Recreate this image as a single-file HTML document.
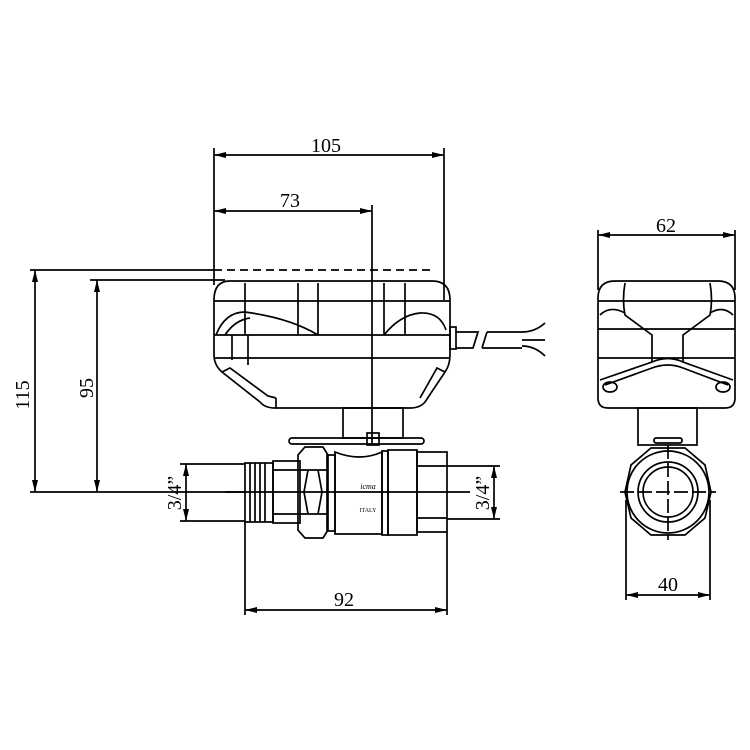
<!DOCTYPE html>
<html><head><style>body{margin:0;background:#fff}svg{display:block}</style></head><body>
<svg width="750" height="750" viewBox="0 0 750 750" xmlns="http://www.w3.org/2000/svg" font-family="Liberation Serif, serif" font-size="20">
<defs>
<marker id="a" viewBox="0 0 12 6" refX="12" refY="3" markerWidth="12" markerHeight="6" orient="auto-start-reverse" markerUnits="userSpaceOnUse"><path d="M0,0L12,3L0,6z" fill="#000"/></marker>
</defs>
<g stroke="#000" stroke-width="1.7" fill="none">
<line x1="214" y1="148" x2="214" y2="285"/>
<line x1="444" y1="148" x2="444" y2="300"/>
<line x1="372" y1="205" x2="372" y2="445"/>
<line x1="30" y1="270" x2="214" y2="270"/>
<line x1="214" y1="270" x2="430" y2="270" stroke-dasharray="8,5"/>
<line x1="90" y1="280" x2="225" y2="280"/>
<line x1="30" y1="492" x2="245" y2="492"/>
<line x1="214" y1="155" x2="444" y2="155" marker-start="url(#a)" marker-end="url(#a)"/>
<line x1="214" y1="211" x2="372" y2="211" marker-start="url(#a)" marker-end="url(#a)"/>
<line x1="35" y1="270" x2="35" y2="492" marker-start="url(#a)" marker-end="url(#a)"/>
<line x1="97" y1="280" x2="97" y2="492" marker-start="url(#a)" marker-end="url(#a)"/>
<path d="M230,281 H432 Q450,281 450,300 V355 Q450,365 445,372 L425,402 Q420,408 410,408 H275 Q265,408 260,402 L222,372 Q214,365 214,355 V300 Q214,281 230,281Z"/>
<line x1="214" y1="301" x2="450" y2="301"/>
<line x1="214" y1="335" x2="450" y2="335"/>
<line x1="214" y1="358" x2="450" y2="358"/>
<line x1="276" y1="408" x2="276" y2="398"/>
<path d="M245,283 V335 M298,283 V335 M318,283 V335 M384,283 V335 M405,283 V335"/>
<path d="M216,335 Q225,312 245,312 Q290,318 318,335"/>
<path d="M225,335 Q235,320 250,318"/>
<path d="M384,335 Q400,315 420,313 Q440,312 446,330"/>
<path d="M222,372 L230,368 L268,396 L276,398"/>
<path d="M445,372 L437,368 L420,398"/>
<path d="M232,335 V360 M248,335 V365"/>
<rect x="450" y="327" width="6" height="22"/>
<path d="M456,332 H478 L473,348 H456"/>
<path d="M487,332 H522 Q535,332 545,323 M522,340 H545 M522,346 Q535,346 545,356 M482,348 L487,332 M482,348 H522"/>
<rect x="343" y="408" width="60" height="30"/>
<rect x="289" y="438" width="135" height="6" rx="3"/>
<rect x="367" y="433" width="12" height="12"/>
<rect x="245" y="463" width="28" height="59"/>
<path d="M250,463V522M255,463V522M260,463V522M265,463V522"/>
<rect x="273" y="461" width="27" height="62"/>
<line x1="273" y1="470" x2="300" y2="470"/><line x1="273" y1="514" x2="300" y2="514"/>
<path d="M305,447 H323 L328,455 V530 L323,538 H305 L298,530 V455Z"/>
<path d="M300,470 H327 M300,514 H327 M308,470 L304,492 L308,514 M318,470 L322,492 L318,514"/>
<rect x="327" y="455" width="8" height="76"/>
<path d="M335,452 Q360,462 382,452 V534 H335Z"/>
<rect x="382" y="451" width="6" height="84"/>
<rect x="388" y="450" width="29" height="85"/>
<rect x="417" y="452" width="30" height="80"/>
<line x1="417" y1="466" x2="447" y2="466"/><line x1="417" y1="518" x2="447" y2="518"/>
<line x1="225" y1="492" x2="470" y2="492"/>
<line x1="180" y1="464" x2="245" y2="464"/><line x1="180" y1="521" x2="245" y2="521"/>
<line x1="186" y1="464" x2="186" y2="521" marker-start="url(#a)" marker-end="url(#a)"/>
<line x1="447" y1="466" x2="500" y2="466"/><line x1="447" y1="519" x2="500" y2="519"/>
<line x1="494" y1="466" x2="494" y2="519" marker-start="url(#a)" marker-end="url(#a)"/>
<line x1="245" y1="522" x2="245" y2="615"/><line x1="447" y1="532" x2="447" y2="615"/>
<line x1="245" y1="610" x2="447" y2="610" marker-start="url(#a)" marker-end="url(#a)"/>
<line x1="598" y1="230" x2="598" y2="290"/><line x1="735" y1="230" x2="735" y2="290"/>
<line x1="598" y1="235" x2="735" y2="235" marker-start="url(#a)" marker-end="url(#a)"/>
<path d="M615,281 H718 Q735,281 735,298 V398 Q735,408 725,408 H608 Q598,408 598,398 V298 Q598,281 615,281Z"/>
<line x1="598" y1="301" x2="735" y2="301"/>
<line x1="598" y1="329" x2="735" y2="329"/>
<line x1="598" y1="358" x2="735" y2="358"/>
<path d="M625,283 Q622,300 625,315 L652,335 V362 L600,380 M710,283 Q713,300 710,315 L683,335 V362 L733,380"/>
<path d="M652,362 Q668,355 683,362 M605,385 L652,368 Q668,362 683,368 L728,385"/>
<ellipse cx="610" cy="387" rx="7" ry="5"/><ellipse cx="723" cy="387" rx="7" ry="5"/>
<path d="M600,315 Q610,305 625,313 M733,315 Q723,305 710,313"/>
<rect x="638" y="408" width="59" height="37"/>
<rect x="654" y="438" width="28" height="5" rx="2"/>
<path d="M651,448 H685 L705,465 L711,492 L705,518 L685,535 H651 L631,518 L625,492 L631,465Z"/>
<circle cx="668" cy="492" r="41"/>
<circle cx="668" cy="492" r="30"/>
<circle cx="668" cy="492" r="25"/>
<path d="M620,492 H716 M668,445 V540" stroke-dasharray="14,4"/>
<line x1="626" y1="500" x2="626" y2="600"/><line x1="710" y1="500" x2="710" y2="600"/>
<line x1="626" y1="595" x2="710" y2="595" marker-start="url(#a)" marker-end="url(#a)"/>
</g>
<g fill="#000">
<text x="326" y="152" text-anchor="middle">105</text>
<text x="290" y="207" text-anchor="middle">73</text>
<text x="666" y="232" text-anchor="middle">62</text>
<text x="344" y="606" text-anchor="middle">92</text>
<text x="668" y="591" text-anchor="middle">40</text>
<text transform="translate(29,395) rotate(-90)" text-anchor="middle">115</text>
<text transform="translate(93,388) rotate(-90)" text-anchor="middle">95</text>
<text transform="translate(181,493) rotate(-90)" text-anchor="middle">3/4”</text>
<text transform="translate(489,493) rotate(-90)" text-anchor="middle">3/4”</text>
<text x="368" y="489" font-size="8" font-style="italic" text-anchor="middle">icma</text>
<text x="368" y="512" font-size="6" text-anchor="middle">ITALY</text>
</g>
</svg>
</body></html>
